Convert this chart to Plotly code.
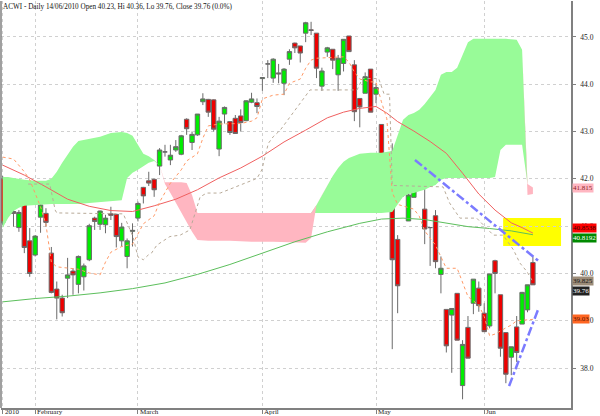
import plotly.graph_objects as go

# ---------------- data ----------------
day_index = list(range(99))
open_ = [42.00, 41.57, 41.31, 40.97, 41.55, 40.69, 40.39, 41.19, 41.27, 40.43,
         39.67, 39.48, 39.90, 40.05, 39.77, 39.93, 40.29, 41.17, 41.04, 41.03,
         41.26, 41.25, 40.69, 40.36, 40.89, 41.17, 41.82, 41.96, 41.99, 42.27,
         42.57, 42.40, 42.61, 42.52, 43.26, 42.77, 42.93, 43.63, 43.68, 43.67,
         42.63, 43.37, 43.21, 43.28, 43.33, 43.23, 43.62, 43.61, 44.12, 44.43,
         44.13, 44.24, 44.02, 44.53, 44.87, 44.81, 45.08, 45.15, 45.08, 43.96,
         44.68, 44.74, 44.20, 44.44, 45.02, 44.41, 43.70, 43.81, 44.32, 43.79,
         43.15, 41.62, 41.60, 40.72, 42.13, 41.11, 41.61, 42.29, 41.36, 40.97,
         41.22, 39.98, 39.24, 39.12, 39.58, 37.63, 38.86, 39.37, 39.69, 39.16,
         38.89, 40.27, 39.55, 38.75, 38.23, 38.87, 38.93, 39.23, 40.23]
high_ = [42.06, 41.70, 41.60, 41.34, 41.56, 40.96, 40.81, 41.50, 41.38, 40.56,
         39.83, 39.55, 40.33, 40.11, 40.38, 40.21, 41.05, 41.20, 41.33, 41.24,
         41.41, 41.26, 41.07, 40.74, 41.06, 41.52, 41.83, 42.15, 42.01, 42.65,
         42.72, 42.72, 42.82, 42.93, 43.28, 43.00, 43.37, 43.81, 43.69, 43.68,
         43.31, 43.53, 43.22, 43.35, 43.47, 43.66, 43.82, 43.70, 44.15, 44.51,
         44.55, 44.43, 44.34, 44.74, 44.88, 44.81, 45.32, 45.32, 45.08, 44.35,
         44.79, 44.74, 44.62, 44.95, 45.02, 44.51, 43.71, 44.25, 44.32, 44.02,
         43.15, 42.19, 42.75, 40.81, 42.22, 42.22, 42.29, 42.29, 41.91, 40.97,
         41.34, 40.36, 39.24, 39.26, 39.58, 38.59, 39.10, 39.88, 39.83, 39.37,
         39.99, 40.29, 39.55, 38.75, 38.45, 39.10, 39.61, 39.76, 40.36]
low_ = [41.03, 41.34, 40.99, 40.88, 40.43, 39.93, 40.36, 40.86, 40.99, 39.58,
        39.03, 39.09, 39.48, 39.55, 39.58, 39.64, 40.26, 40.92, 40.92, 40.85,
        41.13, 40.55, 40.57, 40.11, 40.57, 41.10, 41.48, 41.85, 41.62, 42.08,
        42.47, 42.29, 42.57, 42.50, 42.93, 42.61, 42.91, 43.56, 43.31, 43.00,
        42.48, 43.17, 42.93, 42.95, 43.00, 43.22, 43.60, 43.39, 43.86, 44.13,
        44.03, 44.02, 43.77, 44.41, 44.66, 44.46, 44.89, 45.04, 44.13, 43.86,
        44.58, 44.32, 43.86, 44.27, 44.69, 43.22, 43.09, 43.81, 43.41, 43.60,
        42.25, 41.52, 38.40, 39.16, 41.62, 41.11, 41.61, 41.80, 40.62, 40.16,
        40.11, 39.58, 38.33, 37.90, 38.59, 37.34, 38.21, 39.14, 39.19, 38.77,
        38.84, 39.58, 38.24, 37.68, 37.85, 38.13, 38.93, 39.18, 39.76]
close_ = [41.07, 41.53, 41.27, 41.29, 40.55, 40.00, 40.79, 41.45, 41.08, 39.60,
          39.48, 39.17, 39.97, 39.97, 40.36, 40.16, 41.01, 41.10, 41.32, 41.17,
          41.23, 40.78, 40.98, 40.69, 40.91, 41.48, 41.64, 41.91, 41.77, 42.61,
          42.57, 42.50, 42.68, 42.91, 43.06, 42.94, 43.37, 43.69, 43.41, 43.05,
          43.22, 43.51, 42.98, 42.96, 43.19, 43.65, 43.69, 43.53, 44.14, 44.43,
          44.53, 44.22, 44.32, 44.69, 44.77, 44.66, 45.30, 45.14, 44.34, 44.28,
          44.77, 44.51, 44.55, 44.95, 44.69, 43.42, 43.52, 44.16, 43.41, 43.93,
          42.48, 41.65, 40.29, 39.74, 41.96, 41.66, 42.29, 41.91, 40.94, 40.97,
          40.25, 40.11, 38.47, 39.26, 38.59, 38.50, 38.21, 39.88, 39.32, 38.77,
          39.99, 40.00, 38.42, 37.87, 38.45, 38.33, 39.60, 39.76, 39.76]

tick_index = [0, 6, 25, 48, 69, 89]
tick_text = ["2010", "February", "March", "April", "May", "Jun"]
price_ticks = [38, 39, 40, 41, 42, 43, 44, 45]

ma_red_x = [0, 4, 8, 12, 16, 20, 24, 28, 32, 36, 40, 44, 48, 52, 56, 60, 63,
            66, 69, 71, 73, 76, 79, 82, 85, 88, 91, 94, 96, 98]
ma_red_y = [42.29, 42.08, 41.83, 41.57, 41.42, 41.33, 41.31, 41.43, 41.57, 41.77,
            42.02, 42.23, 42.48, 42.78, 43.03, 43.29, 43.41, 43.49, 43.53, 43.39,
            43.21, 43.01, 42.79, 42.54, 42.12, 41.68, 41.34, 41.07, 40.97, 40.8538]

ma_green_x = [0, 6, 12, 18, 24, 30, 36, 42, 48, 54, 60, 66, 70, 74, 78, 82, 86,
              90, 94, 98]
ma_green_y = [39.40, 39.47, 39.52, 39.59, 39.68, 39.80, 39.98, 40.19, 40.43, 40.67,
              40.88, 41.06, 41.15, 41.17, 41.14, 41.06, 40.99, 40.95, 40.90, 40.8192]

tenkan_x = [0, 2, 4, 5, 7, 8, 9, 10, 14, 16, 18, 19, 20, 22, 24, 25, 26, 28, 29,
            31, 33, 34, 36, 37, 38, 40, 44, 46, 47, 48, 50, 52, 53, 55, 56, 57,
            58, 63, 64, 65, 66, 68, 69, 70, 71, 72, 73, 76, 77, 78, 80, 81, 82,
            84, 85, 86, 88, 89, 90, 91, 93, 94, 95, 98]
tenkan_y = [42.46, 42.42, 42.15, 41.98, 41.41, 41.03, 40.24, 40.14, 40.09, 40.01,
            39.97, 40.24, 40.45, 40.57, 40.62, 40.85, 41.05, 41.22, 41.51, 41.91,
            42.19, 42.38, 42.53, 42.86, 43.12, 43.16, 43.17, 43.22, 43.29, 43.69,
            43.77, 43.79, 44.02, 44.11, 44.34, 44.51, 44.55, 44.58, 44.47, 44.26,
            44.11, 44.05, 44.05, 43.63, 43.27, 41.71, 41.46, 41.36, 41.21, 40.90,
            40.60, 40.35, 40.11, 40.11, 39.79, 39.51, 39.33, 39.09, 38.68, 38.72,
            38.85, 38.91, 39.00, 39.03]

kijun_x = [4.7, 8.7, 9.7, 10, 22.3, 24.1, 25, 26, 26.9, 27.5, 28.5, 30.9, 32.8,
           34.6, 36.5, 37.7, 40.2, 47, 47.9, 49.1, 50, 51.3, 56.8, 65.5, 66.5,
           69.5, 70.5, 71.5, 72, 81.4, 82.6, 84.5, 87.6, 90.7, 92.5, 94.4, 95.6,
           96.9, 98]
kijun_y = [41.89, 41.89, 41.34, 41.28, 41.26, 40.77, 40.35, 40.29, 40.39, 40.43,
           40.60, 40.78, 40.81, 40.92, 41.62, 41.70, 41.70, 42.01, 42.19, 42.75,
           42.89, 43.03, 43.88, 43.88, 44.12, 44.12, 43.79, 43.79, 41.86, 41.83,
           41.49, 41.17, 41.17, 40.81, 40.81, 40.50, 40.22, 40.04, 39.825]

cloud_x = [0, 1, 2, 3, 4, 6, 8, 9, 10, 11, 12, 13, 14, 16, 18, 20, 22, 23, 24,
           25, 26, 27, 28, 29, 30, 31, 32, 33, 34, 35, 36, 38, 42, 46, 50, 54,
           56, 57, 58, 59, 60, 61, 62, 63, 64, 65, 66, 68, 70, 72, 73, 74, 75,
           76, 77, 78, 79, 80, 81, 82, 83, 84, 85, 86, 87, 88, 90, 91, 92, 93,
           95, 96, 97, 98]
span_a = [42.04, 42.04, 42.02, 42.00, 41.98, 41.96, 41.96, 42.00, 42.15, 42.34,
          42.51, 42.68, 42.80, 42.84, 42.89, 42.97, 42.99, 42.97, 42.91, 42.72,
          42.53, 42.48, 42.40, 42.29, 41.89, 41.70, 41.49, 41.28, 41.09, 40.88,
          40.71, 40.69, 40.69, 40.67, 40.67, 40.65, 40.65, 40.75, 41.45, 41.66,
          41.87, 42.06, 42.23, 42.36, 42.44, 42.48, 42.53, 42.55, 42.55, 42.59,
          42.93, 43.25, 43.35, 43.39, 43.46, 43.58, 43.73, 43.88, 44.20, 44.26,
          44.26, 44.35, 44.62, 44.89, 44.96, 44.96, 44.96, 44.96, 44.96, 44.96,
          44.94, 44.73, 41.66, 41.68]
span_b = [40.96, 41.17, 41.32, 41.39, 41.43, 41.45, 41.47, 41.47, 41.47, 41.47,
          41.47, 41.47, 41.47, 41.49, 41.51, 41.53, 41.55, 42.02, 42.13, 42.19,
          42.27, 42.34, 42.38, 42.29, 41.93, 41.93, 41.93, 41.93, 41.91, 41.66,
          41.28, 41.28, 41.28, 41.28, 41.28, 41.28, 41.28, 41.28, 41.28, 41.28,
          41.28, 41.28, 41.28, 41.28, 41.28, 41.28, 41.28, 41.28, 41.28, 41.30,
          41.47, 41.62, 41.68, 41.70, 41.74, 41.77, 41.83, 41.87, 41.98, 42.02,
          42.02, 42.02, 42.02, 42.02, 42.02, 42.02, 42.02, 42.04, 42.61, 42.72,
          42.72, 42.72, 41.89, 41.82]

trend1_x = [76.2, 99.3]
trend1_y = [42.40, 40.24]
trend2_x = [93.6, 99.0]
trend2_y = [37.62, 39.25]
box_x = [92.5, 103.2]
box_y = [40.58, 41.17]

last_labels = [
    ("41.815", 41.815, "#ffb6c1", "#8b1a1a", 0),
    ("40.8538", 40.8538, "#ff0000", "#400000", 5),
    ("40.8192", 40.8192, "#008a00", "#ffffff", -3),
    ("39.825", 39.825, "#9c8c78", "#111111", 1),
    ("39.76", 39.76, "#222222", "#ffffff", -6),
    ("39.03", 39.03, "#ff6622", "#5a1000", 0),
]

title_text = "ACWI - Daily 14/06/2010 Open 40.23, Hi 40.36, Lo 39.76, Close 39.76 (0.0%)"

# ---------------- figure ----------------
FONT = "Liberation Serif"
fig = go.Figure()

cloud_top = [max(a, b) for a, b in zip(span_a, span_b)]
fig.add_trace(go.Scatter(x=cloud_x, y=span_b, mode="lines", line=dict(width=0),
                         hoverinfo="skip", showlegend=False))
fig.add_trace(go.Scatter(x=cloud_x, y=cloud_top, mode="lines", line=dict(width=0),
                         fill="tonexty", fillcolor="#98fb98",
                         hoverinfo="skip", showlegend=False))
fig.add_trace(go.Scatter(x=cloud_x, y=span_a, mode="lines", line=dict(width=0),
                         hoverinfo="skip", showlegend=False))
fig.add_trace(go.Scatter(x=cloud_x, y=cloud_top, mode="lines", line=dict(width=0),
                         fill="tonexty", fillcolor="#ffb6c1",
                         hoverinfo="skip", showlegend=False))

fig.add_trace(go.Scatter(x=ma_green_x, y=ma_green_y, mode="lines",
                         line=dict(color="#5cbf5c", width=1), showlegend=False))
fig.add_trace(go.Scatter(x=ma_red_x, y=ma_red_y, mode="lines",
                         line=dict(color="#f06060", width=1), showlegend=False))
fig.add_trace(go.Scatter(x=tenkan_x, y=tenkan_y, mode="lines",
                         line=dict(color="#ff9966", width=1, dash="dot"),
                         showlegend=False))
fig.add_trace(go.Scatter(x=kijun_x, y=kijun_y, mode="lines",
                         line=dict(color="#b8aa98", width=1, dash="dot"),
                         showlegend=False))

fig.add_trace(go.Candlestick(
    x=day_index, open=open_, high=high_, low=low_, close=close_,
    increasing=dict(fillcolor="#00ee00", line=dict(color="#6a6a6a", width=1)),
    decreasing=dict(fillcolor="#ee0000", line=dict(color="#6a6a6a", width=1)),
    whiskerwidth=0, showlegend=False))

for tx, ty in ((trend1_x, trend1_y), (trend2_x, trend2_y)):
    fig.add_trace(go.Scatter(x=tx, y=ty, mode="lines",
                             line=dict(color="#7b7bff", width=2.5, dash="dashdot"),
                             showlegend=False))

fig.add_shape(type="rect", xref="x", yref="y", x0=box_x[0], x1=box_x[1],
              y0=box_y[0], y1=box_y[1], fillcolor="#ffff00",
              line=dict(width=0), layer="below")

fig.add_shape(type="line", xref="paper", yref="paper", x0=0, x1=0, y0=0, y1=1,
              line=dict(color="#808080", width=1.5))

for lbl, val, bg, fg, shift in last_labels:
    fig.add_annotation(x=1, xref="paper", y=val, yref="y", xanchor="left",
                       yanchor="middle", text=lbl, showarrow=False, yshift=shift,
                       xshift=1, bgcolor=bg, borderpad=0,
                       font=dict(family=FONT, size=7, color=fg))

for ti, tt in zip(tick_index, tick_text):
    fig.add_annotation(x=ti, xref="x", y=0, yref="paper", xanchor="left",
                       yanchor="top", text=tt, showarrow=False, xshift=1,
                       yshift=1, borderpad=0,
                       font=dict(family=FONT, size=7, color="#222"))

fig.add_annotation(x=0, xref="paper", y=1, yref="paper", xanchor="left",
                   yanchor="top", text=title_text, showarrow=False, xshift=1,
                   yshift=-1, borderpad=0,
                   font=dict(family=FONT, size=7.2, color="#111"))

fig.update_layout(
    width=600, height=416,
    margin=dict(l=1, r=29, t=1, b=8),
    paper_bgcolor="white", plot_bgcolor="white",
    showlegend=False,
    boxgap=0.1, boxgroupgap=0.1,
    xaxis=dict(range=[-0.31, 105.04], tickvals=tick_index, showticklabels=False,
               ticks="outside", ticklen=4, tickcolor="#808080",
               showgrid=True, gridcolor="#d0d0d0", griddash="dot",
               showline=True, linecolor="#808080", linewidth=1.5,
               zeroline=False, rangeslider=dict(visible=False), fixedrange=True),
    yaxis=dict(side="right", range=[37.156, 45.76], tickvals=price_ticks,
               ticktext=[f"{v:.1f}" for v in price_ticks],
               ticks="outside", ticklen=3, tickcolor="#808080",
               ticklabelstandoff=3,
               tickfont=dict(family=FONT, size=7.5, color="#222"),
               showgrid=True, gridcolor="#d0d0d0", griddash="dot",
               showline=True, linecolor="#808080", linewidth=1.5,
               zeroline=False, fixedrange=True),
)

fig.write_html("out.html",
               config={"displayModeBar": False},
               post_script="document.body.style.margin='0px';"
                           "document.body.style.overflow='hidden';")
